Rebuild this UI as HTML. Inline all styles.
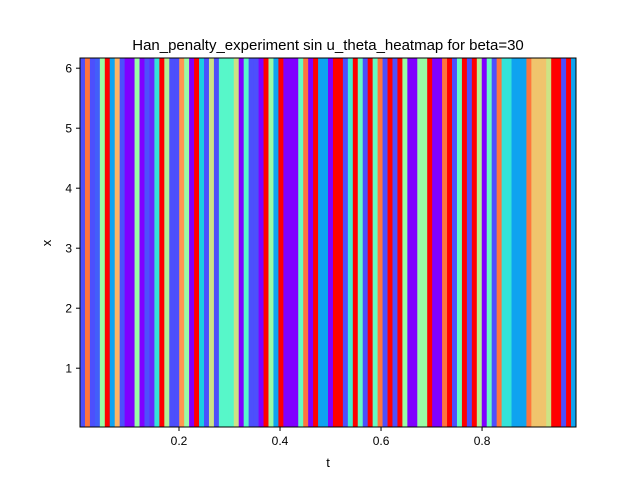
<!DOCTYPE html>
<html><head><meta charset="utf-8"><style>
body{margin:0;background:#fff;}
svg{display:block;font-family:"Liberation Sans","DejaVu Sans",sans-serif;}
</style></head><body>
<svg id="chart" width="640" height="480">
<rect x="0" y="0" width="640" height="480" fill="#fff"/>
<g id="cells"></g>
<rect x="80" y="58" width="496" height="369" fill="none" stroke="#000" stroke-width="1"/>
<g id="xticks"></g>
<g id="yticks"></g>
<text x="328" y="50" text-anchor="middle" font-size="15">Han_penalty_experiment sin u_theta_heatmap for beta=30</text>
<text x="328" y="467" text-anchor="middle" font-size="13">t</text>
<text x="51" y="243" text-anchor="middle" font-size="13" transform="rotate(-90 51 243)">x</text>
</svg>
<script>
const columnValues = [
0.1,0.85,0.1,0.12,0.55,1.0,0.22,0.75,0.1,0.0,0.0,0.55,0.0,0.1,0.05,0.35,1.0,0.6,0.1,0.1,
0.8,0.55,0.0,1.0,0.3,0.1,0.65,0.1,0.42,0.42,0.42,0.65,0.0,0.42,0.1,0.1,0.0,1.0,0.55,0.22,
1.0,0.0,0.0,0.0,0.45,0.85,0.0,1.0,0.22,0.22,0.0,1.0,1.0,0.1,0.38,1.0,0.45,0.1,1.0,0.45,
0.85,0.1,1.0,0.1,1.0,0.55,0.0,0.0,0.55,0.55,1.0,0.0,0.0,0.85,1.0,0.1,0.45,1.0,0.1,1.0,
0.6,0.0,0.45,0.1,0.85,0.35,0.35,0.22,0.22,0.22,0.85,0.72,0.72,0.72,0.65,1.0,1.0,0.1,1.0,0.22];
const tDomain = [0.004, 0.986];
const xDomain = [0.02, 6.17];
const xTickLabels = ["0.2","0.4","0.6","0.8"];
const xTickValues = [0.2,0.4,0.6,0.8];
const yTickLabels = ["1","2","3","4","5","6"];
const yTickValues = [1,2,3,4,5,6];

const L=80,R=576,T=58,B=427;
const NS='http://www.w3.org/2000/svg';
function sx(t){return L+(t-tDomain[0])/(tDomain[1]-tDomain[0])*(R-L);}
function sy(v){return B-(v-xDomain[0])/(xDomain[1]-xDomain[0])*(B-T);}
function rainbow(x){
  const r=Math.min(1,Math.abs(2*x-0.5)), g=Math.sin(Math.PI*x), b=Math.cos(Math.PI*x/2);
  return 'rgb('+Math.round(r*255)+','+Math.round(g*255)+','+Math.round(b*255)+')';
}
const cells=document.getElementById('cells');
const n=columnValues.length;
const dt=(tDomain[1]-tDomain[0])/n;
columnValues.forEach((v,i)=>{
  const x0=sx(tDomain[0]+i*dt), x1=sx(tDomain[0]+(i+1)*dt);
  const r=document.createElementNS(NS,'rect');
  r.setAttribute('x',x0);r.setAttribute('y',sy(xDomain[1]));
  r.setAttribute('width',x1-x0+0.4);r.setAttribute('height',sy(xDomain[0])-sy(xDomain[1]));
  r.setAttribute('fill',rainbow(v));
  
  
  cells.appendChild(r);
});
const xg=document.getElementById('xticks');
xTickValues.forEach((t,i)=>{
  const x=sx(t);
  const l=document.createElementNS(NS,'line');
  l.setAttribute('x1',x);l.setAttribute('x2',x);l.setAttribute('y1',B);l.setAttribute('y2',B+4);l.setAttribute('stroke','#000');
  
  
  xg.appendChild(l);
  const tx=document.createElementNS(NS,'text');
  tx.setAttribute('x',x);tx.setAttribute('y',B+18);tx.setAttribute('text-anchor','middle');tx.setAttribute('font-size','12');
  tx.textContent=xTickLabels[i];
  
  
  xg.appendChild(tx);
});
const yg=document.getElementById('yticks');
yTickValues.forEach((v,i)=>{
  const y=sy(v);
  const l=document.createElementNS(NS,'line');
  l.setAttribute('x1',L-4);l.setAttribute('x2',L);l.setAttribute('y1',y);l.setAttribute('y2',y);l.setAttribute('stroke','#000');
  
  
  yg.appendChild(l);
  const tx=document.createElementNS(NS,'text');
  tx.setAttribute('x',L-8);tx.setAttribute('y',y+4.5);tx.setAttribute('text-anchor','end');tx.setAttribute('font-size','12');
  tx.textContent=yTickLabels[i];
  
  
  yg.appendChild(tx);
});
</script>
</body></html>
